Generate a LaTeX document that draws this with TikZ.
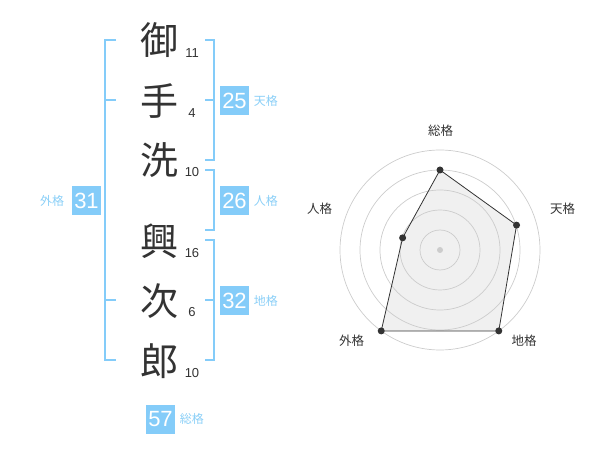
\documentclass[tikz,border=0pt]{standalone}
\usepackage{fontspec}
\setmainfont{Liberation Sans}
\newfontfamily\jpfont{Noto Sans CJK JP}
\usepackage{tikz}
\usetikzlibrary{positioning}

\definecolor{kakublue}{HTML}{84CCF9}
\definecolor{kakutext}{HTML}{8ACFF7}
\definecolor{inkgray}{HTML}{333333}

\begin{document}
\begin{tikzpicture}[x=1pt,y=-1pt,thick]
  \tikzstyle{kanji}=[text=inkgray,font=\jpfont\fontsize{38}{38}\selectfont,inner sep=0pt]
  \tikzstyle{strokenum}=[text=inkgray,font=\fontsize{13}{13}\selectfont,inner sep=0pt]
  \tikzstyle{kakubox}=[fill=kakublue,text=white,minimum size=29pt,inner sep=0pt,
                       font=\fontsize{22}{22}\selectfont]
  \tikzstyle{kakuname}=[text=kakutext,font=\jpfont\fontsize{12}{12}\selectfont,inner sep=0pt]
  \tikzstyle{bracket}=[draw=kakublue,line width=1.8pt]
  \tikzstyle{axisname}=[text=inkgray,font=\jpfont\fontsize{12.5}{12.5}\selectfont,inner sep=0pt]
  \tikzstyle{ring}=[draw=black!20,line width=0.7pt]
  \tikzstyle{dotmark}=[circle,fill=inkgray,inner sep=0pt,minimum size=7pt]

  \useasboundingbox (0,0) rectangle (600,470);

  % name column
  \node[kanji] (k1) at (159,40)  {御};
  \node[kanji] (k2) at (159,101) {手};
  \node[kanji] (k3) at (159,160) {洗};
  \node[kanji] (k4) at (159,241) {興};
  \node[kanji] (k5) at (159,301) {次};
  \node[kanji] (k6) at (159,361) {郎};

  \node[strokenum] (n1) at (192,53)  {11};
  \node[strokenum] (n2) at (192,113) {4};
  \node[strokenum] (n3) at (192,172) {10};
  \node[strokenum] (n4) at (192,253) {16};
  \node[strokenum] (n5) at (192,312) {6};
  \node[strokenum] (n6) at (192,373) {10};

  % brackets
  \draw[bracket] (205,40) -- (214,40) -- (214,160) -- (205,160);
  \draw[bracket] (205,100) -- (214,100);
  \draw[bracket] (205,170) -- (214,170) -- (214,230) -- (205,230);
  \draw[bracket] (205,240) -- (214,240) -- (214,360) -- (205,360);
  \draw[bracket] (205,300) -- (214,300);
  \draw[bracket] (116,40) -- (105,40) -- (105,360) -- (116,360);
  \draw[bracket] (105,100) -- (116,100);
  \draw[bracket] (105,300) -- (116,300);

  % kaku values
  \node[kakubox] (ten)  at (234.5,100.5) {25};
  \node[kakuname] (tenL) [right=4pt of ten] {天格};
  \node[kakubox] (jin)  at (234.5,201) {26};
  \node[kakuname] (jinL) [right=4pt of jin] {人格};
  \node[kakubox] (chi)  at (234.5,300.5) {32};
  \node[kakuname] (chiL) [right=4pt of chi] {地格};
  \node[kakubox] (gai)  at (86.5,201) {31};
  \node[kakuname] (gaiL) [left=7pt of gai] {外格};
  \node[kakubox] (sou)  at (160.5,419) {57};
  \node[kakuname] (souL) [right=4pt of sou] {総格};

  % radar chart
  \begin{scope}[shift={(440,250)},yscale=-1]
    \coordinate (pSou) at (90:80);
    \coordinate (pTen) at (18:80.5);
    \coordinate (pChi) at (-54:100);
    \coordinate (pGai) at (234:100);
    \coordinate (pJin) at (162:39.3);

    \fill[black!6] (pSou) -- (pTen) -- (pChi) -- (pGai) -- (pJin) -- cycle;

    \draw[ring] (0,0) circle (20);
    \draw[ring] (0,0) circle (40);
    \draw[ring] (0,0) circle (60);
    \draw[ring] (0,0) circle (80);
    \draw[ring] (0,0) circle (100);

    \draw[inkgray,line width=0.8pt]
      (pSou) -- (pTen) -- (pChi) -- (pGai) -- (pJin) -- cycle;
    \fill[black!20] (0,0) circle (3);

    \node[dotmark] (mSou) at (pSou) {};
    \node[dotmark] (mTen) at (pTen) {};
    \node[dotmark] (mChi) at (pChi) {};
    \node[dotmark] (mGai) at (pGai) {};
    \node[dotmark] (mJin) at (pJin) {};
  \end{scope}

  \node[axisname] (aSou) at (440.5,130.5) {総格};
  \node[axisname] (aTen) at (562.5,208.5) {天格};
  \node[axisname] (aJin) at (319.5,208.5) {人格};
  \node[axisname] (aGai) at (351.5,341) {外格};
  \node[axisname] (aChi) at (524,341) {地格};
\end{tikzpicture}
\end{document}
